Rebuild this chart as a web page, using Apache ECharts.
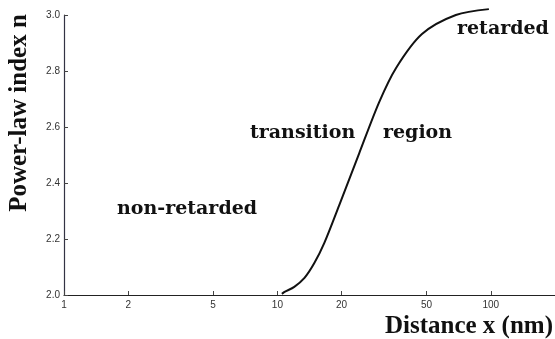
<!DOCTYPE html>
<html><head><meta charset="utf-8">
<script src="https://cdn.jsdelivr.net/npm/echarts@6/dist/echarts.min.js"></script>
<style>html,body{margin:0;padding:0;background:#fff}#c{width:555px;height:339px}</style>
</head><body><div id="c"></div>
<script>
const distance = [10.5, 10.8, 12.0, 13.4, 14.9, 16.6, 19.5, 24.2, 30.0, 36.0, 47.6, 68.6, 98];
const powerIndex = [2.004, 2.011, 2.029, 2.061, 2.114, 2.186, 2.321, 2.507, 2.689, 2.811, 2.932, 3.0, 3.021];
const xTicks = [1, 2, 5, 10, 20, 50, 100];
const yTicks = [2.0, 2.2, 2.4, 2.6, 2.8, 3.0];

const chart = echarts.init(document.getElementById('c'));
const serif = 'Liberation Serif';
const annFont = 'bold 19px "DejaVu Serif"';
chart.setOption({
  animation: false,
  grid: {left: 64, right: 0, top: 15, bottom: 44},
  xAxis: {
    type: 'log', logBase: 10, min: 1, max: 200,
    axisLine: {lineStyle: {color: '#222', width: 1.2}},
    axisTick: {inside: true, length: 4, customValues: xTicks, lineStyle: {color: '#444'}},
    axisLabel: {customValues: xTicks, color: '#333', fontSize: 10, fontFamily: 'Liberation Sans', margin: 5,
      formatter: v => String(Math.round(v))},
    splitLine: {show: false}, minorTick: {show: false}
  },
  yAxis: {
    type: 'value', min: 2.0, max: 3.0, interval: 0.2,
    axisLine: {show: true, lineStyle: {color: '#334', width: 1.2}},
    axisTick: {show: true, inside: true, length: 4, lineStyle: {color: '#444'}},
    axisLabel: {color: '#333', fontSize: 10, fontFamily: 'Liberation Sans', margin: 4,
      formatter: v => v.toFixed(1)},
    splitLine: {show: false}
  },
  series: [{
    type: 'line', smooth: 0.3, symbol: 'none', clip: false,
    data: distance.map((d, i) => [d, powerIndex[i]]),
    lineStyle: {color: '#111', width: 2}
  }],
  graphic: [
    {type: 'text', x: 20, y: 113, rotation: Math.PI / 2, style: {text: 'Power-law index n', x: 0, y: 0, align: 'center', verticalAlign: 'middle', font: 'bold 25px "' + serif + '"', fill: '#111'}},
    {type: 'text', style: {text: 'Distance x (nm)', x: 553, y: 327, align: 'right', verticalAlign: 'middle', font: 'bold 25px "' + serif + '"', fill: '#111'}},
    {type: 'text', style: {text: 'non-retarded', x: 117, y: 209, verticalAlign: 'middle', font: annFont, fill: '#111'}},
    {type: 'text', style: {text: 'transition', x: 250, y: 133, verticalAlign: 'middle', font: annFont, fill: '#111'}},
    {type: 'text', style: {text: 'region', x: 383, y: 133, verticalAlign: 'middle', font: annFont, fill: '#111'}},
    {type: 'text', style: {text: 'retarded', x: 457, y: 29, verticalAlign: 'middle', font: annFont, fill: '#111'}}
  ]
});
</script></body></html>
